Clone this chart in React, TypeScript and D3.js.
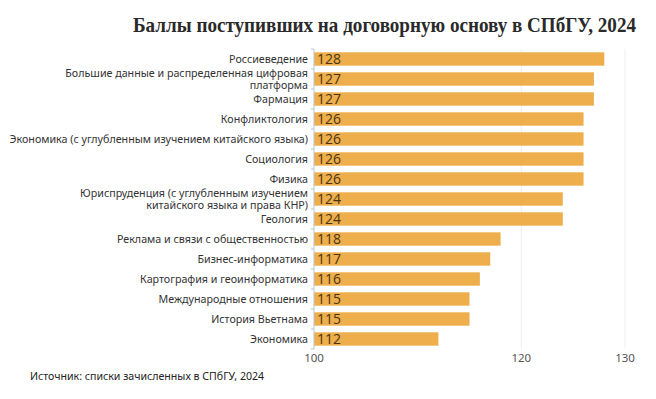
import * as d3 from "d3";

const categories = [
  "Россиеведение",
  "Большие данные и распределенная цифровая\nплатформа",
  "Фармация",
  "Конфликтология",
  "Экономика (с углубленным изучением китайского языка)",
  "Социология",
  "Физика",
  "Юриспруденция (с углубленным изучением\nкитайского языка и права КНР)",
  "Геология",
  "Реклама и связи с общественностью",
  "Бизнес-информатика",
  "Картография и геоинформатика",
  "Международные отношения",
  "История Вьетнама",
  "Экономика",
];

const scores = [128, 127, 127, 126, 126, 126, 126, 124, 124, 118, 117, 116, 115, 115, 112];

const tickValues = [100, 120, 130];

const title = "Баллы поступивших на договорную основу в СПбГУ, 2024";
const source = "Источник: списки зачисленных в СПбГУ, 2024";

const width = 656;
const height = 399;
const margin = { top: 49, left: 314, right: 31, bottom: 50 };

const App = () => {
  const xScale = d3
    .scaleLinear()
    .domain([100, 130])
    .range([margin.left, width - margin.right]);

  const yScale = d3
    .scaleBand()
    .domain(categories)
    .range([margin.top, height - margin.bottom])
    .paddingInner(0.33)
    .paddingOuter(0.165);

  const bottom = height - margin.bottom;
  const step = yScale.step();

  return (
    <svg width={width} height={height} style={{ position: "absolute", left: 0, top: 0, background: "#fff" }}>
      <text
        x={133}
        y={32}
        fontFamily="'Liberation Serif', serif"
        fontWeight="bold"
        fontSize={21}
        fill="#2a2a2a"
        textLength={503}
        lengthAdjust="spacingAndGlyphs"
      >
        {title}
      </text>

      {/* gridlines */}
      <g className="grid">
        {tickValues.filter((t) => t !== 100).map((t) => (
          <line key={t} x1={xScale(t)} x2={xScale(t)} y1={margin.top} y2={bottom} stroke="#eceef2" strokeWidth={1} />
        ))}
      </g>

      <g className="bars">
        {categories.map((c, i) => (
          <rect
            key={c}
            x={xScale(100)}
            y={yScale(c)}
            width={xScale(scores[i]) - xScale(100)}
            height={yScale.bandwidth()}
            fill="#eeae4c"
          />
        ))}
      </g>

      <g className="values">
        {categories.map((c, i) => (
          <text
            key={c}
            x={xScale(100) + 3}
            y={(yScale(c) ?? 0) + yScale.bandwidth() / 2}
            dy="0.36em"
            fontFamily="'Open Sans', sans-serif"
            fontSize={14}
            fill="#4a3410"
          >
            {scores[i]}
          </text>
        ))}
      </g>

      {/* y axis */}
      <g className="y-axis">
        <line x1={margin.left} x2={margin.left} y1={margin.top} y2={bottom} stroke="#b8c4d4" />
        {d3.range(categories.length + 1).map((i) => (
          <line
            key={i}
            x1={margin.left - 3}
            x2={margin.left}
            y1={margin.top + i * step}
            y2={margin.top + i * step}
            stroke="#b8c4d4"
          />
        ))}
        {categories.map((c) => {
          const lines = c.split("\n");
          const cy = (yScale(c) ?? 0) + yScale.bandwidth() / 2;
          const lh = 11.4;
          return (
            <text
              key={c}
              x={margin.left - 6}
              textAnchor="end"
              fontFamily="'Noto Sans', sans-serif"
              fontSize={10.7}
              fill="#333"
            >
              {lines.map((l, j) => (
                <tspan key={j} x={margin.left - 6} y={cy + (j - (lines.length - 1) / 2) * lh} dy="0.36em">
                  {l}
                </tspan>
              ))}
            </text>
          );
        })}
      </g>

      {/* x axis */}
      <g className="x-axis">
        {tickValues.map((t) => (
          <text
            key={t}
            x={xScale(t)}
            y={bottom + 13}
            textAnchor="middle"
            fontFamily="'Noto Sans', sans-serif"
            fontSize={11.5}
            fill="#555"
          >
            {t}
          </text>
        ))}
      </g>

      <text x={30} y={380} fontFamily="'Noto Sans', sans-serif" fontSize={10.6} fill="#222">
        {source}
      </text>
    </svg>
  );
};

export default App;
